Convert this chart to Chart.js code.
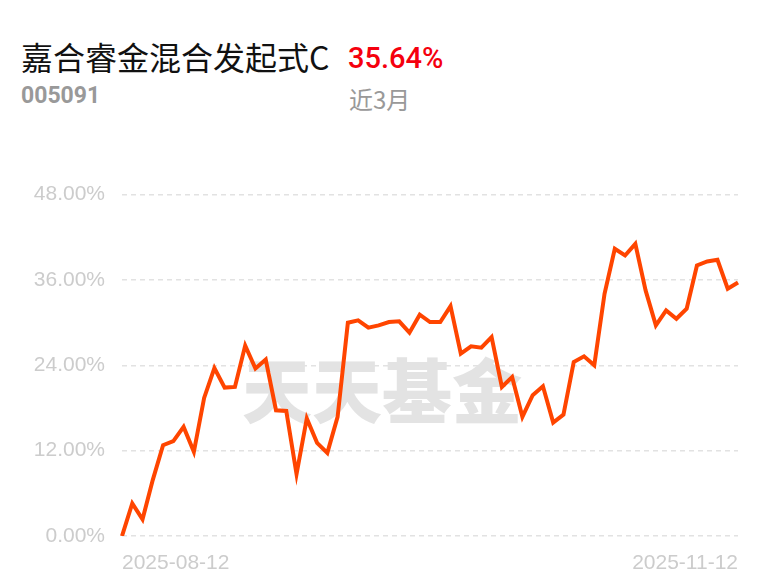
<!DOCTYPE html>
<html>
<head>
<meta charset="utf-8">
<script src="https://cdn.jsdelivr.net/npm/chart.js@4"></script>
<style>
  html, body { margin: 0; padding: 0; background: #fff; }
  body { width: 768px; height: 587px; position: relative; overflow: hidden;
         font-family: "Noto Sans CJK SC", "Noto Sans", sans-serif; }
  .title { position: absolute; left: 21px; top: 40px; font-size: 32px; color: #111; line-height: 32px; }
  .code { position: absolute; left: 21px; top: 82px; font-size: 23px; color: #999; font-weight: bold; line-height: 28px; font-family: Roboto, "Noto Sans", sans-serif; }
  .rate { position: absolute; left: 348px; top: 42px; font-size: 29px; color: #f5000e; font-weight: 500; line-height: 32px; font-family: Roboto, "Noto Sans", sans-serif; }
  .period { position: absolute; left: 349px; top: 85px; font-size: 24px; color: #999; line-height: 28px; }
  .wrap { position: absolute; left: 0; top: 165px; width: 768px; height: 422px; }
</style>
</head>
<body>
<div class="title">嘉合睿金混合发起式C</div>
<div class="code">005091</div>
<div class="rate">35.64%</div>
<div class="period">近3月</div>
<div class="wrap"><canvas id="chart"></canvas></div>
<script>
var dates = [
  '2025-08-12','2025-08-13','2025-08-14','2025-08-15','2025-08-18','2025-08-19','2025-08-20','2025-08-21','2025-08-22',
  '2025-08-25','2025-08-26','2025-08-27','2025-08-28','2025-08-29',
  '2025-09-01','2025-09-02','2025-09-03','2025-09-04','2025-09-05','2025-09-08','2025-09-09','2025-09-10','2025-09-11','2025-09-12',
  '2025-09-15','2025-09-16','2025-09-17','2025-09-18','2025-09-19','2025-09-22','2025-09-23','2025-09-24','2025-09-25','2025-09-26',
  '2025-09-29','2025-09-30',
  '2025-10-09','2025-10-10','2025-10-13','2025-10-14','2025-10-15','2025-10-16','2025-10-17','2025-10-20','2025-10-21','2025-10-22',
  '2025-10-23','2025-10-24','2025-10-27','2025-10-28','2025-10-29','2025-10-30','2025-10-31',
  '2025-11-03','2025-11-04','2025-11-05','2025-11-06','2025-11-07','2025-11-10','2025-11-11','2025-11-12'
];
var returns = [
  0, 4.59, 2.34, 7.9, 12.77, 13.33, 15.34, 11.83, 19.41, 23.62,
  20.87, 20.96, 26.77, 23.54, 24.80, 17.68, 17.59, 8.70, 16.52, 13.10,
  11.69, 16.75, 29.99, 30.32, 29.29, 29.61, 30.08, 30.18, 28.59, 31.12,
  30.08, 30.08, 32.32, 25.64, 26.67, 26.48, 27.97, 20.96, 22.36, 16.75,
  19.79, 21.05, 15.96, 17.08, 24.46, 25.26, 24.00, 34.06, 40.38, 39.44,
  41.08, 34.53, 29.61, 31.72, 30.55, 31.96, 38.04, 38.60, 38.83, 34.77,
  35.64
];
var yTicks = [0, 12, 24, 36, 48];

var labelFont = { family: '"Liberation Sans", Arial, sans-serif', size: 21 };

// faint site watermark behind the line
var watermark = {
  id: 'watermark',
  beforeDatasetsDraw: function (chart) {
    var ctx = chart.ctx;
    var area = chart.chartArea;
    ctx.save();
    ctx.fillStyle = '#e3e3e3';
    ctx.font = '900 70px "Noto Sans CJK SC", sans-serif';
    ctx.textAlign = 'center';
    ctx.textBaseline = 'middle';
    ctx.fillText('天天基金', area.left + 260, 226);
    ctx.restore();
  }
};

new Chart(document.getElementById('chart'), {
  type: 'line',
  data: {
    labels: dates,
    datasets: [{
      data: returns,
      borderColor: '#ff4500',
      borderWidth: 4,
      pointRadius: 0,
      tension: 0,
      fill: false
    }]
  },
  options: {
    responsive: true,
    maintainAspectRatio: false,
    animation: false,
    layout: { padding: { top: 11, right: 30, left: 0, bottom: 0 } },
    plugins: { legend: { display: false }, tooltip: { enabled: false } },
    scales: {
      x: {
        grid: { display: false, drawTicks: false },
        border: { display: false },
        afterFit: function (axis) { axis.height = 51; },
        ticks: {
          autoSkip: false,
          maxRotation: 0,
          align: 'inner',
          color: '#cccccc',
          font: labelFont,
          padding: 15,
          callback: function (v, i) {
            return (i === 0 || i === dates.length - 1) ? dates[i] : '';
          }
        }
      },
      y: {
        min: yTicks[0],
        max: yTicks[yTicks.length - 1],
        afterBuildTicks: function (axis) {
          axis.ticks = yTicks.map(function (v) { return { value: v }; });
        },
        afterFit: function (axis) { axis.width = 122; },
        grid: { color: '#e2e2e2', lineWidth: 1.5, drawTicks: false },
        border: { display: false, dash: [5, 4] },
        ticks: {
          color: '#cccccc',
          font: labelFont,
          padding: 17,
          callback: function (v) { return v.toFixed(2) + '%'; }
        }
      }
    }
  },
  plugins: [watermark]
});
</script>
</body>
</html>
